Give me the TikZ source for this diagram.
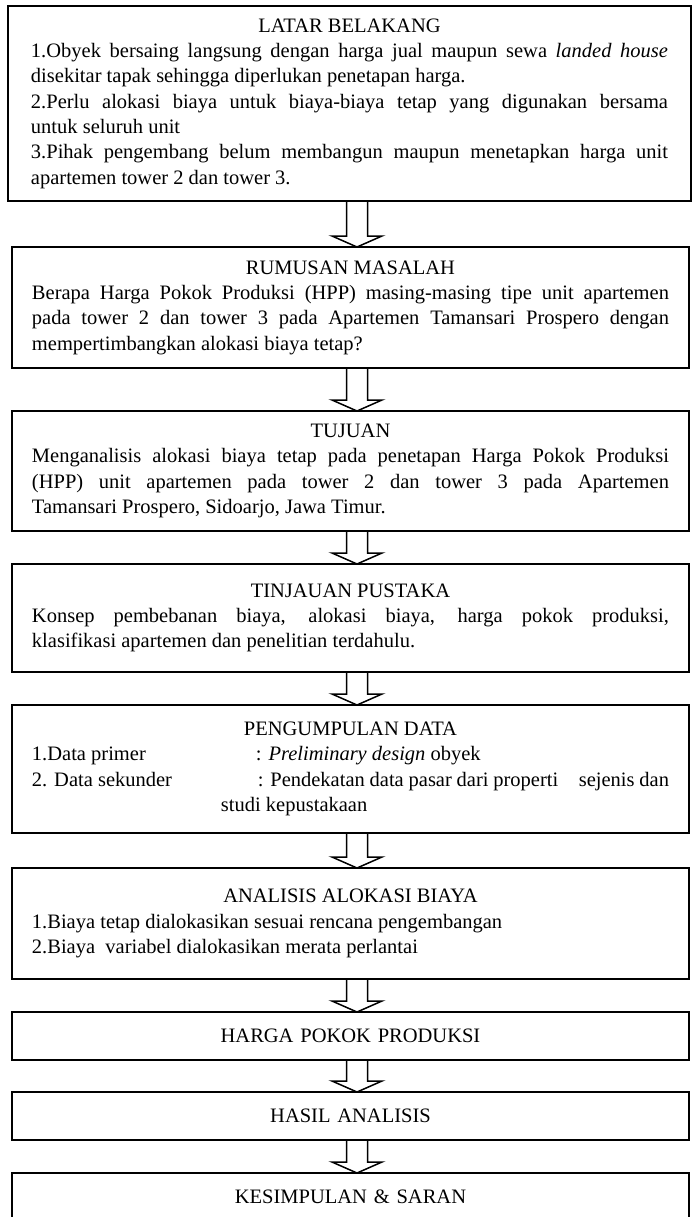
\documentclass[tikz,border=0pt]{standalone}
\usepackage{fontspec}
\setmainfont{Liberation Serif}
\usepackage{tikz}
\usetikzlibrary{positioning,calc}
\setlength{\parindent}{0pt}
\tolerance=9999
\hbadness=10000
\hyphenpenalty=10000
\exhyphenpenalty=10000

\begin{document}
\begin{tikzpicture}[x=0.5pt, y=-0.5pt,
  font=\fontsize{10.25pt}{12.65pt}\selectfont,
  blk/.style={draw, line width=0.9pt, outer sep=0pt, inner sep=0pt, text width=318.5pt, align=justify, minimum width=338.5pt},
  judul/.style={blk, align=center, minimum height=24pt},
  panah/.style={draw, line width=0.75pt, line join=miter},
]
\path[use as bounding box, clip] (0,0) rectangle (699,1217);
\coordinate (axis) at (357,0);
\node[blk, minimum width=341.5pt, minimum height=97.5pt] (latar) at (349.5,103.5) {{\centering LATAR BELAKANG\par}
1.Obyek bersaing langsung dengan harga jual maupun sewa \textit{landed house}\linebreak disekitar tapak sehingga diperlukan penetapan harga.\par
2.Perlu alokasi biaya untuk biaya-biaya tetap yang digunakan bersama\linebreak untuk seluruh unit\par
3.Pihak pengembang belum membangun maupun menetapkan harga unit\linebreak apartemen tower 2 dan tower 3.};
\node[blk, below=23pt of latar, xshift=0.5pt, minimum height=60.5pt] (rumusan) {{\centering RUMUSAN MASALAH\par}
Berapa Harga Pokok Produksi (HPP) masing-masing tipe unit apartemen\linebreak pada tower 2 dan tower 3 pada Apartemen Tamansari Prospero dengan\linebreak mempertimbangkan alokasi biaya tetap?};
\node[blk, below=21.5pt of rumusan, minimum height=60pt] (tujuan) {{\centering TUJUAN\par}
Menganalisis alokasi biaya tetap pada penetapan Harga Pokok Produksi\linebreak (HPP) unit apartemen pada tower 2 dan tower 3 pada Apartemen\linebreak Tamansari Prospero, Sidoarjo, Jawa Timur.};
\node[blk, below=16.5pt of tujuan, minimum height=54pt] (tinjauan) {{\centering TINJAUAN PUSTAKA\par}
Konsep pembebanan biaya, alokasi biaya, harga pokok produksi,\linebreak klasifikasi apartemen dan penelitian terdahulu.};
\node[blk, below=16.5pt of tinjauan, minimum height=64pt] (data) {{\centering PENGUMPULAN DATA\par}
\makebox[112pt][l]{1.Data primer}: \textit{Preliminary design} obyek\par
\makebox[113pt][l]{2. Data sekunder}: Pendekatan data pasar dari properti\quad sejenis dan\linebreak
\hspace*{94.5pt}studi kepustakaan};
\node[blk, below=17.5pt of data, minimum height=55.5pt] (analisis) {{\centering ANALISIS ALOKASI BIAYA\par}
1.Biaya tetap dialokasikan sesuai rencana pengembangan\par
2.Biaya\ \ variabel dialokasikan merata perlantai};
\node[judul, below=16.5pt of analisis] (hpp) {HARGA POKOK PRODUKSI};
\node[judul, below=16pt of hpp] (hasil) {HASIL ANALISIS};
\node[judul, below=16.5pt of hasil] (simpulan) {KESIMPULAN \& SARAN};
\foreach \a/\b in {latar/rumusan, rumusan/tujuan, tujuan/tinjauan, tinjauan/data, data/analisis, analisis/hpp, hpp/hasil, hasil/simpulan}
  \draw[panah] ($(\a.south -| axis)+(-10.5,0)$) -- ($(\b.north -| axis)+(-10.5,-11)$) -- ++(-14.5,0) -- (\b.north -| axis) -- ($(\b.north -| axis)+(25,-11)$) -- ++(-14.5,0) -- ($(\a.south -| axis)+(10.5,0)$);
\end{tikzpicture}
\end{document}
